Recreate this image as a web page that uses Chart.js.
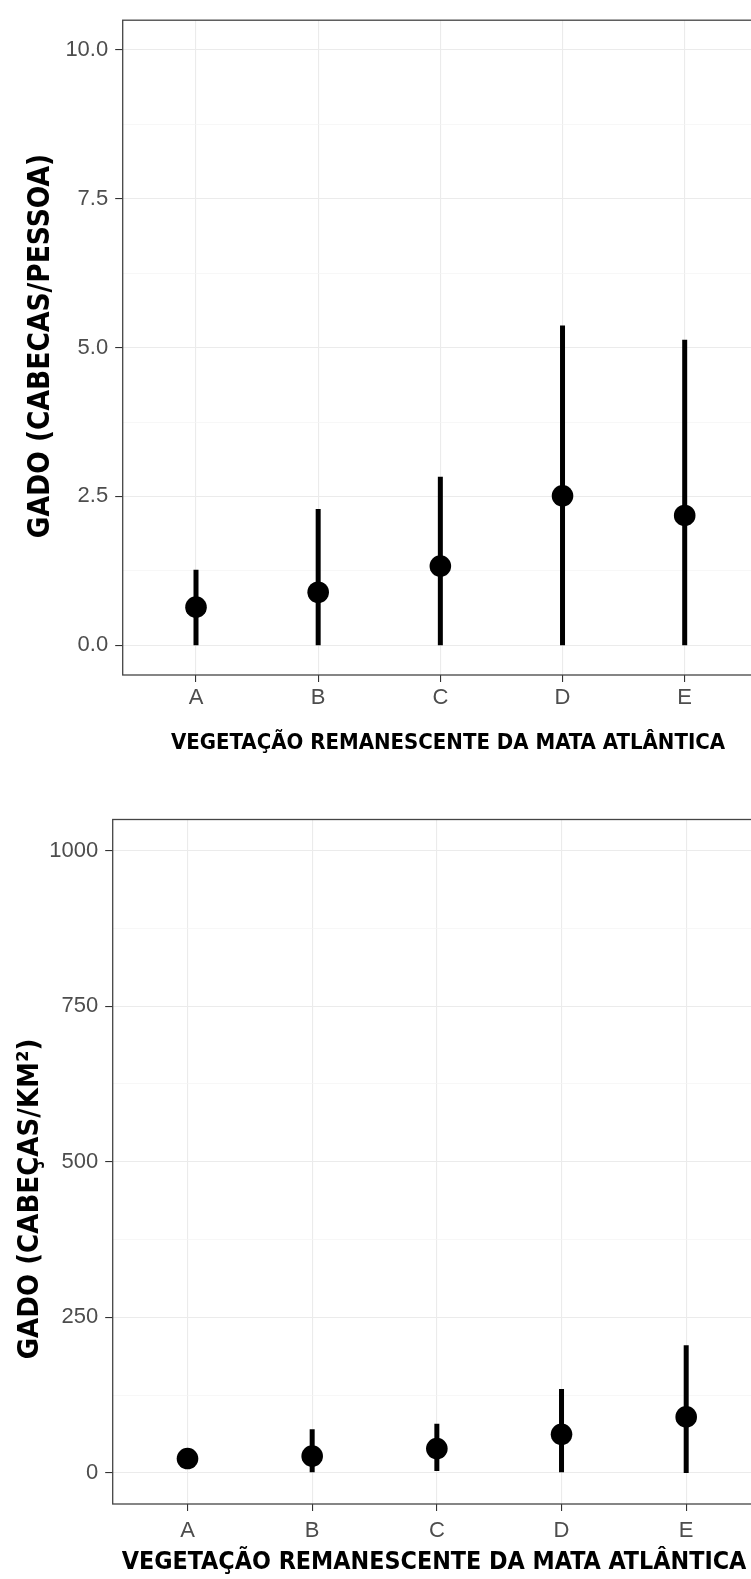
<!DOCTYPE html>
<html>
<head>
<meta charset="utf-8">
<script src="https://cdn.jsdelivr.net/npm/chart.js@4.4.1/dist/chart.umd.min.js"></script>
<style>
    body { margin: 0; background: #fff; overflow: hidden; width: 751px; height: 1579px; position: relative; }
    #grafPessoa { position: absolute; left: 0; top: 0; }
    #grafKm { position: absolute; left: 0; top: 790px; }
</style>
</head>
<body>
<canvas id="grafPessoa" width="780" height="770"></canvas>
<canvas id="grafKm" width="780" height="789"></canvas>
<script>
// Dados
const categorias = ['A', 'B', 'C', 'D', 'E'];

// painel 1: cabecas por pessoa
const pessoaMedia = [0.64, 0.89, 1.33, 2.51, 2.18];
const pessoaMin = [0, 0, 0, 0, 0];
const pessoaMax = [1.27, 2.29, 2.83, 5.37, 5.13];
const ticksPessoa = [0, 2.5, 5, 7.5, 10];

// painel 2: cabecas por km2
const kmMedia = [23, 27, 39, 62, 90];
const kmMin = [12, 1, 3, 1, 0];
const kmMax = [37, 70, 79, 135, 205];
const ticksKm = [0, 250, 500, 750, 1000];

const tituloX = 'VEGETAÇÃO REMANESCENTE DA MATA ATLÂNTICA';
const fonteTitulo = "'Liberation Sans Narrow', 'DejaVu Sans Condensed', 'Liberation Sans', sans-serif";
const fonteEixo = "'Liberation Sans', Arial, sans-serif";

// moldura do painel (como o theme_bw)
const moldura = {
    id: 'moldura',
    afterDraw(chart) {
        const a = chart.chartArea;
        const ctx = chart.ctx;
        ctx.save();
        ctx.strokeStyle = '#444';
        ctx.lineWidth = 1.3;
        ctx.strokeRect(a.left, a.top, a.right - a.left, a.bottom - a.top);
        ctx.restore();
    }
};

// titulos dos eixos (posicao livre, como no original)
const titulos = {
    id: 'titulos',
    afterDraw(chart, args, opts) {
        const ctx = chart.ctx;
        ctx.save();
        ctx.fillStyle = '#000';
        ctx.textAlign = 'center';
        ctx.textBaseline = 'middle';
        ctx.font = 'bold ' + opts.tamX + 'px ' + fonteTitulo;
        ctx.fillText(tituloX, opts.xX, opts.yX);
        ctx.translate(opts.xY, opts.yY);
        ctx.rotate(-Math.PI / 2);
        ctx.font = 'bold ' + opts.tamY + 'px ' + fonteTitulo;
        ctx.fillText(opts.textoY, 0, 0);
        ctx.restore();
    }
};

// linhas principais + secundarias no meio
function comMenores(maiores) {
    const t = [];
    maiores.forEach((v, i) => {
        t.push({ value: v, menor: false });
        if (i < maiores.length - 1) {
            t.push({ value: (v + maiores[i + 1]) / 2, menor: true });
        }
    });
    return t;
}

function criarGrafico(id, cfg) {
    const pontos = {
        data: categorias.map((c, i) => ({ x: i, y: cfg.media[i] })),
        backgroundColor: '#000',
        borderWidth: 0,
        pointRadius: 10.8,
        pointHoverRadius: 10.8
    };
    const barras = categorias.map((c, i) => ({
        data: [{ x: i, y: cfg.min[i] }, { x: i, y: cfg.max[i] }],
        showLine: true,
        borderColor: '#000',
        borderWidth: 5,
        borderCapStyle: 'butt',
        pointRadius: 0
    }));

    const ehMenor = ctx => ctx.tick && ctx.tick.menor;

    new Chart(document.getElementById(id), {
        type: 'scatter',
        data: { datasets: [pontos, ...barras] },
        options: {
            responsive: false,
            animation: false,
            layout: { padding: { top: cfg.padTop, right: cfg.padRight, left: 0, bottom: 0 } },
            plugins: {
                legend: { display: false },
                tooltip: { enabled: false },
                titulos: cfg.titulos
            },
            scales: {
                x: {
                    type: 'linear',
                    min: -0.6,
                    max: 4.6,
                    afterBuildTicks: ax => { ax.ticks = categorias.map((c, i) => ({ value: i })); },
                    afterFit: ax => { ax.height = cfg.alturaX; },
                    ticks: {
                        callback: v => categorias[Math.round(v)],
                        color: '#4d4d4d',
                        font: { family: fonteEixo, size: 22 },
                        padding: cfg.padTickX,
                        maxRotation: 0,
                        autoSkip: false
                    },
                    grid: { color: '#ebebeb', lineWidth: 1.1, tickColor: '#333', tickLength: 7, tickWidth: 1.1 },
                    border: { display: false }
                },
                y: {
                    min: cfg.yMin,
                    max: cfg.yMax,
                    afterBuildTicks: ax => { ax.ticks = comMenores(cfg.ticks); },
                    afterFit: ax => { ax.width = cfg.larguraY; },
                    ticks: {
                        callback: (v, i, t) => t[i].menor ? '' : cfg.formato(v),
                        color: '#4d4d4d',
                        font: { family: fonteEixo, size: 22 },
                        padding: 7,
                        autoSkip: false
                    },
                    grid: {
                        color: c => ehMenor(c) ? '#f3f3f3' : '#ebebeb',
                        lineWidth: c => ehMenor(c) ? 0.7 : 1.1,
                        tickColor: c => ehMenor(c) ? 'rgba(0,0,0,0)' : '#333',
                        tickLength: 7.5,
                        tickWidth: 1.1
                    },
                    border: { display: false }
                }
            }
        },
        plugins: [moldura, titulos]
    });
}

criarGrafico('grafPessoa', {
    media: pessoaMedia, min: pessoaMin, max: pessoaMax, ticks: ticksPessoa,
    yMin: -0.5, yMax: 10.5,
    formato: v => v.toFixed(1),
    padTop: 10, padRight: 22, larguraY: 122.7, alturaX: 95,
    padTickX: 3.1,
    titulos: { tamX: 22, xX: 448, yX: 743, tamY: 29.5, xY: 41, yY: 346, textoY: 'GADO (CABECAS/PESSOA)' }
});

criarGrafico('grafKm', {
    media: kmMedia, min: kmMin, max: kmMax, ticks: ticksKm,
    yMin: -50, yMax: 1050,
    formato: v => String(v),
    padTop: 29.5, padRight: 19, larguraY: 112.7, alturaX: 75,
    padTickX: 7.1,
    titulos: { tamX: 24.8, xX: 434, yX: 773, tamY: 29, xY: 30, yY: 409, textoY: 'GADO (CABEÇAS/KM²)' }
});
</script>
</body>
</html>
